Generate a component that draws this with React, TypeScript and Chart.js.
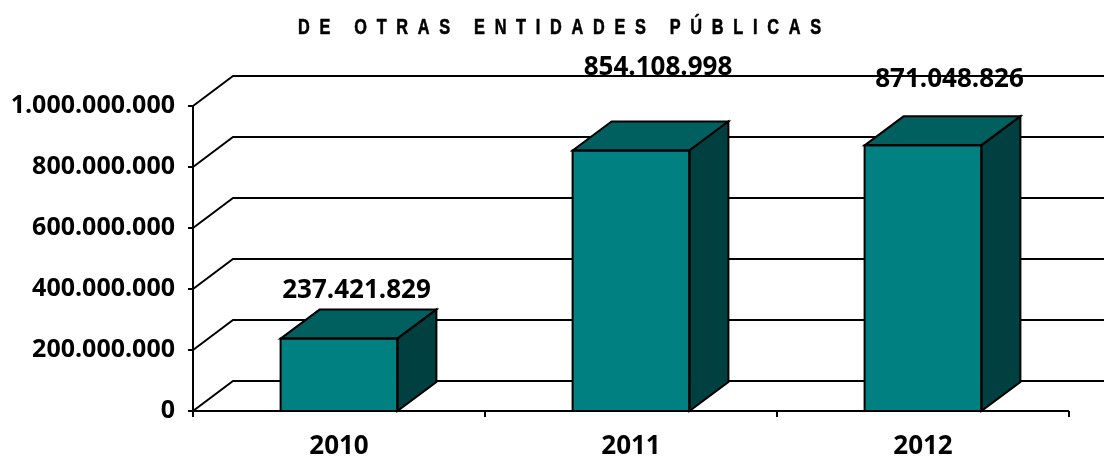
import React, { useEffect, useRef } from 'react';
import { Chart, registerables } from 'chart.js';

Chart.register(...registerables);

// ---- data ----
const categories: string[] = ['2010', '2011', '2012'];
const values: number[] = [237421829, 854108998, 871048826];
const yTicks: number[] = [0, 200000000, 400000000, 600000000, 800000000, 1000000000];
const titleText = 'DE OTRAS ENTIDADES PÚBLICAS';

// ---- style ----
const FONT = '"Open Sans", "Noto Sans", sans-serif';
const TITLE_FONT = 'bold 22px "Liberation Sans", Arial, sans-serif';
const TITLE_SCALE_X = 0.74;
const TITLE_CENTER_X = 559.5;
const TITLE_CENTER_Y = 27.5;
const TITLE_WIDTH = 523;
const WALL = { dx: 40, dy: -30 };
const BAR = { dx: 39, dy: -29 };
const FRONT = '#008080';
const TOP = '#005F5F';
const SIDE = '#004040';
const LABEL_OFFSETS = [
  { dx: 17.5, dy: -47.5 },
  { dx: 27, dy: -83 },
  { dx: 26.5, dy: -65.5 },
];

function fmt(v: number): string {
  return String(Math.round(v)).replace(/\B(?=(\d{3})+(?!\d))/g, '.');
}

const threeD = {
  id: 'threeD',
  beforeDraw(chart: any) {
    const ctx = chart.ctx as CanvasRenderingContext2D;
    ctx.save();
    ctx.fillStyle = '#fff';
    ctx.fillRect(0, 0, chart.width, chart.height);
    // title with letter spacing, condensed
    ctx.font = TITLE_FONT;
    ctx.fillStyle = '#000';
    ctx.strokeStyle = '#000';
    ctx.textBaseline = 'middle';
    ctx.textAlign = 'left';
    (ctx as any).letterSpacing = '0px';
    const natural = ctx.measureText(titleText).width;
    const wUnscaled = TITLE_WIDTH / TITLE_SCALE_X;
    const ls = (wUnscaled - natural) / (titleText.length - 1);
    (ctx as any).letterSpacing = ls + 'px';
    ctx.translate(TITLE_CENTER_X - TITLE_WIDTH / 2, TITLE_CENTER_Y);
    ctx.scale(TITLE_SCALE_X, 1);
    ctx.fillText(titleText, 0, 0);
    ctx.lineWidth = 0.6;
    ctx.strokeText(titleText, 0, 0);
    ctx.restore();
  },
  beforeDatasetsDraw(chart: any) {
    const ctx = chart.ctx as CanvasRenderingContext2D;
    const a = chart.chartArea;
    const ys = chart.scales.y;
    const xs = chart.scales.x;
    const meta = chart.getDatasetMeta(0);
    ctx.save();
    // data labels (behind the wall lines)
    ctx.font = `bold 26px ${FONT}`;
    ctx.fillStyle = '#000';
    ctx.textAlign = 'center';
    ctx.textBaseline = 'middle';
    meta.data.forEach((bar: any, i: number) => {
      const o = LABEL_OFFSETS[i];
      ctx.fillText(fmt(values[i]), bar.x + o.dx, bar.y + o.dy);
    });
    // back wall + side wall + floor lines
    ctx.strokeStyle = '#000';
    ctx.lineWidth = 2;
    ctx.lineJoin = 'miter';
    yTicks.forEach((t) => {
      const py = ys.getPixelForValue(t);
      ctx.beginPath();
      ctx.moveTo(a.left, py);
      ctx.lineTo(a.left + WALL.dx, py + WALL.dy);
      ctx.lineTo(a.right + WALL.dx + 10, py + WALL.dy);
      ctx.stroke();
    });
    // front axes
    ctx.beginPath();
    ctx.moveTo(a.left, a.top);
    ctx.lineTo(a.left, a.bottom);
    ctx.lineTo(a.right, a.bottom);
    ctx.stroke();
    // y tick marks
    yTicks.forEach((t) => {
      const py = ys.getPixelForValue(t);
      ctx.beginPath();
      ctx.moveTo(a.left - 5, py);
      ctx.lineTo(a.left, py);
      ctx.stroke();
    });
    // x tick marks at category boundaries
    const half = (xs.getPixelForValue(1) - xs.getPixelForValue(0)) / 2;
    for (let i = 0; i <= categories.length; i++) {
      const px = xs.getPixelForValue(i) - half;
      ctx.beginPath();
      ctx.moveTo(px, a.bottom);
      ctx.lineTo(px, a.bottom + 6);
      ctx.stroke();
    }
    ctx.restore();
  },
  afterDatasetsDraw(chart: any) {
    const ctx = chart.ctx as CanvasRenderingContext2D;
    const meta = chart.getDatasetMeta(0);
    ctx.save();
    ctx.strokeStyle = '#000';
    ctx.lineWidth = 2;
    ctx.lineJoin = 'miter';
    meta.data.forEach((bar: any) => {
      const { x, y, base, width } = bar.getProps(['x', 'y', 'base', 'width'], true);
      const l = x - width / 2;
      const r = x + width / 2;
      ctx.beginPath();
      ctx.moveTo(l, y);
      ctx.lineTo(l + BAR.dx, y + BAR.dy);
      ctx.lineTo(r + BAR.dx, y + BAR.dy);
      ctx.lineTo(r, y);
      ctx.closePath();
      ctx.fillStyle = TOP;
      ctx.fill();
      ctx.stroke();
      ctx.beginPath();
      ctx.moveTo(r, y);
      ctx.lineTo(r + BAR.dx, y + BAR.dy);
      ctx.lineTo(r + BAR.dx, base + BAR.dy);
      ctx.lineTo(r, base);
      ctx.closePath();
      ctx.fillStyle = SIDE;
      ctx.fill();
      ctx.stroke();
      ctx.beginPath();
      ctx.rect(l, y, width, base - y);
      ctx.stroke();
    });
    ctx.restore();
  },
};

export default function App() {
  const ref = useRef<HTMLCanvasElement | null>(null);
  useEffect(() => {
    if (!ref.current) return;
    const chart = new Chart(ref.current, {
      type: 'bar',
      data: {
        labels: categories,
        datasets: [
          {
            data: values,
            backgroundColor: FRONT,
            borderColor: '#000',
            borderWidth: 0,
            barPercentage: 0.4,
            categoryPercentage: 1,
          },
        ],
      },
      options: {
        animation: false,
        responsive: false,
        devicePixelRatio: 1,
        layout: { padding: { top: 106, right: 35, left: 0, bottom: 0 } },
        plugins: {
          legend: { display: false },
          title: { display: false },
          tooltip: { enabled: false },
        },
        scales: {
          x: {
            grid: { display: false },
            border: { display: false },
            ticks: {
              color: '#000',
              font: { family: FONT, size: 26, weight: 'bold' },
              padding: 12,
              maxRotation: 0,
            },
            afterFit: (s: any) => {
              s.height = 47;
            },
          },
          y: {
            min: 0,
            max: 1000000000,
            grid: { display: false },
            border: { display: false },
            afterBuildTicks: (s: any) => {
              s.ticks = yTicks.map((v) => ({ value: v }));
            },
            ticks: {
              color: '#000',
              font: { family: FONT, size: 25, weight: 'bold' },
              padding: 10,
              callback: (v: any) => fmt(Number(v)),
            },
            afterFit: (s: any) => {
              s.width = 193;
            },
          },
        },
      },
      plugins: [threeD],
    });
    return () => chart.destroy();
  }, []);
  return (
    <div style={{ position: 'fixed', left: 0, top: 0, width: 1104, height: 458, background: '#fff' }}>
      <canvas ref={ref} width={1104} height={458} style={{ display: 'block' }} />
    </div>
  );
}
